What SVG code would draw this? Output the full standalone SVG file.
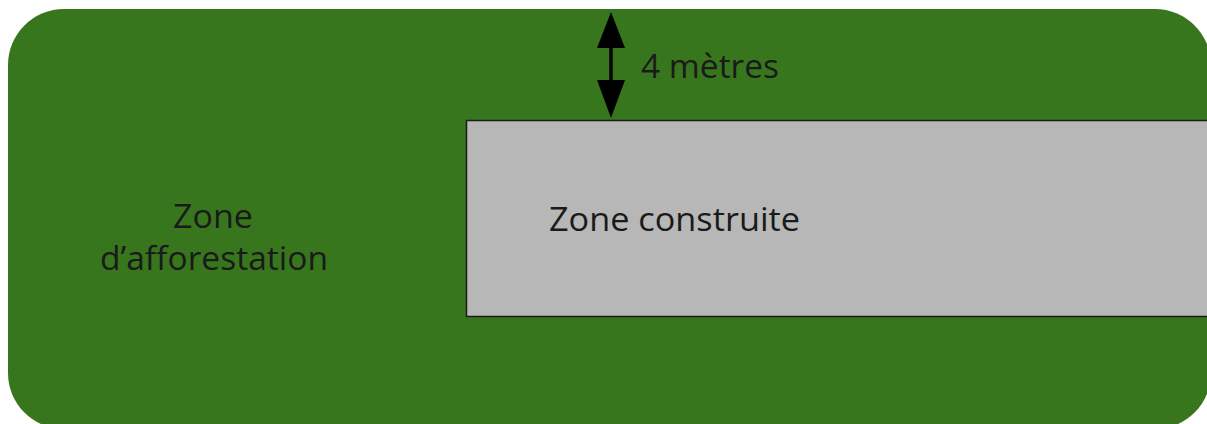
<svg xmlns="http://www.w3.org/2000/svg" width="1207" height="424" viewBox="0 0 1207 424">
<style>
text{font-family:"Open Sans",Lato,sans-serif;fill:#1a1a1a}
.t{font-size:32px}
</style>
<g id="afforestation">
<rect x="8" y="9" width="1203" height="420" rx="56" fill="#38761d"/>
<text class="t" x="173" y="228" textLength="80" lengthAdjust="spacingAndGlyphs">Zone</text>
<text class="t" x="100" y="270" textLength="228" lengthAdjust="spacingAndGlyphs">d’afforestation</text>
</g>
<g id="construite">
<rect x="466.5" y="120.5" width="750" height="196" fill="#b7b7b7" stroke="#1a1a1a" stroke-width="1.5"/>
<text class="t" x="549" y="231" textLength="251" lengthAdjust="spacingAndGlyphs">Zone construite</text>
</g>
<g id="connectors">
<line x1="611" y1="40" x2="611" y2="90" stroke="#000" stroke-width="3.5"/>
<path d="M611,12 L625,48 L597,48 z" fill="#000"/>
<path d="M611,118 L625,80 L597,80 z" fill="#000"/>
<text class="t" x="641" y="78" textLength="138" lengthAdjust="spacingAndGlyphs">4 mètres</text>
</g>
</svg>
